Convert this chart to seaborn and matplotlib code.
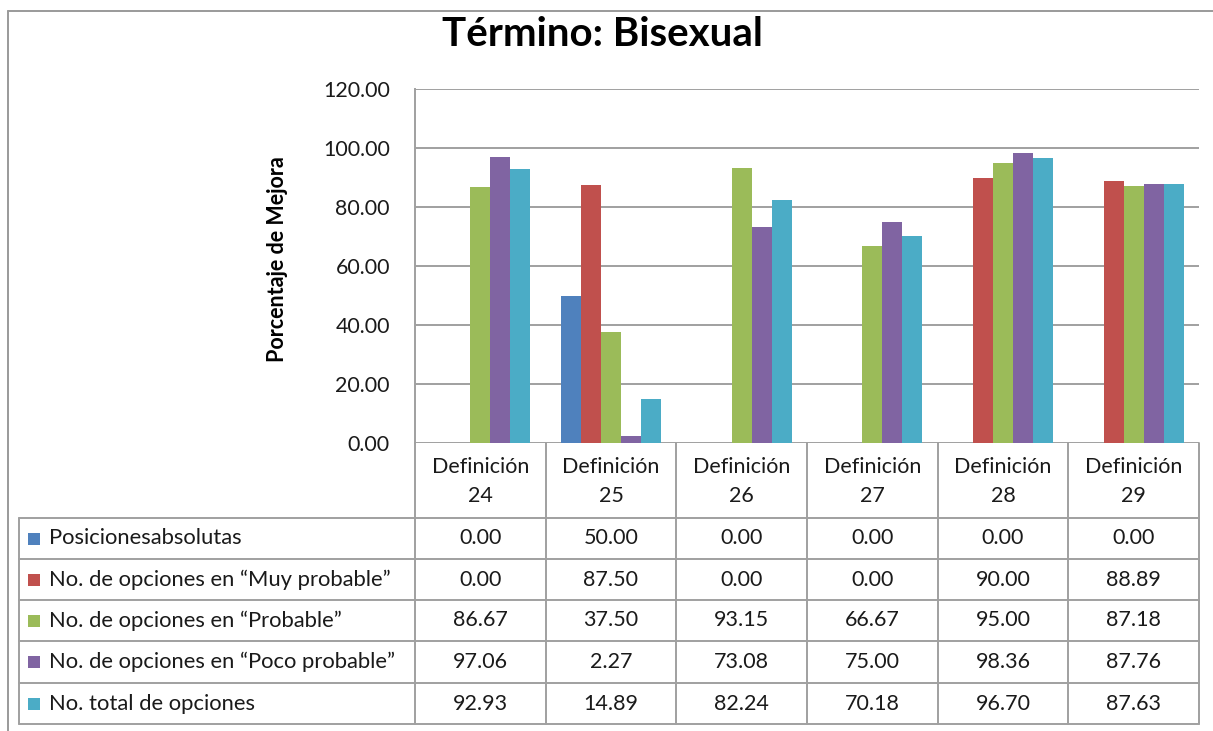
import matplotlib
matplotlib.use("Agg")
import matplotlib.pyplot as plt
from matplotlib.lines import Line2D
from matplotlib.patches import Rectangle
import seaborn as sns
import pandas as pd

categories = ["Definición 24", "Definición 25", "Definición 26", "Definición 27", "Definición 28", "Definición 29"]
series = ["Posicionesabsolutas",
          "No. de opciones en \u201cMuy probable\u201d",
          "No. de opciones en \u201cProbable\u201d",
          "No. de opciones en \u201cPoco probable\u201d",
          "No. total de opciones"]
pos_abs = [0.00, 50.00, 0.00, 0.00, 0.00, 0.00]
muy_prob = [0.00, 87.50, 0.00, 0.00, 90.00, 88.89]
prob = [86.67, 37.50, 93.15, 66.67, 95.00, 87.18]
poco_prob = [97.06, 2.27, 73.08, 75.00, 98.36, 87.76]
total = [92.93, 14.89, 82.24, 70.18, 96.70, 87.63]
yticks = [0, 20, 40, 60, 80, 100, 120]
colors = ["#4F81BD", "#C0504D", "#9BBB59", "#8064A2", "#4BACC6"]

values = [pos_abs, muy_prob, prob, poco_prob, total]
rows = []
for s, vals in zip(series, values):
    for c, v in zip(categories, vals):
        rows.append({"cat": c, "series": s, "val": v})
df = pd.DataFrame(rows)

sns.set_theme(style="white")
FONT = ["Lato", "DejaVu Sans"]
plt.rcParams["font.family"] = FONT

W, H = 1213, 731
fig = plt.figure(figsize=(W / 100, H / 100), dpi=100)
fig.patch.set_facecolor("white")

def fx(x):
    return x / W

def fy(y):
    return 1 - y / H

ax_l, ax_r, ax_t, ax_b = 415, 1199, 89, 443
ax = fig.add_axes([fx(ax_l), fy(ax_b), fx(ax_r - ax_l), (ax_b - ax_t) / H])

sns.barplot(data=df, x="cat", y="val", hue="series", hue_order=series,
            order=categories, palette=colors, width=0.765, saturation=1,
            linewidth=0, legend=False, ax=ax)
ax.set_xlim(-0.5, len(categories) - 0.5)
ax.set_ylim(0, 120)
ax.set_yticks(yticks)
ax.set_yticklabels([f"{t:.2f}" for t in yticks], fontsize=15.4, color="#1a1a1a")
ax.set_xticks([])
ax.set_xlabel("")
ax.set_ylabel("")
ax.tick_params(axis="y", length=0, pad=18)
ax.grid(axis="y", color="#A0A0A0", linewidth=1.4)
ax.set_axisbelow(True)
for sp in ["top", "right", "bottom"]:
    ax.spines[sp].set_visible(False)
ax.spines["left"].set_color("#A0A0A0")
ax.spines["left"].set_linewidth(1.4)

# title and y label
fig.text(fx(602), fy(35), "Término: Bisexual", ha="center", va="center",
         fontsize=29, fontweight="bold", color="black")
fig.text(fx(278), fy(259), "Porcentaje de Mejora", ha="center", va="center",
         rotation=90, fontsize=15.5, fontweight="bold", color="black")

# outer chart frame (top and left)
lc = "#9A9A9A"
fig.add_artist(Line2D([fx(8), fx(W)], [fy(11), fy(11)], color=lc, lw=1.4))
fig.add_artist(Line2D([fx(8), fx(8)], [fy(11), fy(H)], color=lc, lw=1.4))

# data table
ncol = len(categories)
colw = (ax_r - ax_l) / ncol
xb = [ax_l + i * colw for i in range(ncol + 1)]
tbl_left = 19
row_y = [518, 559, 600, 641, 683, 724]
head_top = ax_b

tc = "#A0A0A0"
for x in xb:
    fig.add_artist(Line2D([fx(x), fx(x)], [fy(head_top), fy(row_y[-1])], color=tc, lw=1.4))
fig.add_artist(Line2D([fx(tbl_left), fx(tbl_left)], [fy(row_y[0]), fy(row_y[-1])], color=tc, lw=1.4))
for y in row_y:
    fig.add_artist(Line2D([fx(tbl_left), fx(ax_r)], [fy(y), fy(y)], color=tc, lw=1.4))

# header
for i, c in enumerate(categories):
    cx = (xb[i] + xb[i + 1]) / 2
    fig.text(fx(cx), fy((head_top + row_y[0]) / 2 + 1), c.replace(" ", "\n"),
             ha="center", va="center", fontsize=15.5, color="#1a1a1a", linespacing=1.55)

# rows
for r, (s, vals, col) in enumerate(zip(series, values, colors)):
    cy = (row_y[r] + row_y[r + 1]) / 2
    fig.add_artist(Rectangle((fx(28), fy(cy + 6)), 12 / W, 12 / H, transform=fig.transFigure,
                             facecolor=col, edgecolor="none"))
    fig.text(fx(49), fy(cy), s, ha="left", va="center", fontsize=15.8, color="#1a1a1a")
    for i, v in enumerate(vals):
        cx = (xb[i] + xb[i + 1]) / 2
        fig.text(fx(cx), fy(cy), f"{v:.2f}", ha="center", va="center",
                 fontsize=15.5, color="#1a1a1a")

fig.savefig("out.png", dpi=100, facecolor="white")
